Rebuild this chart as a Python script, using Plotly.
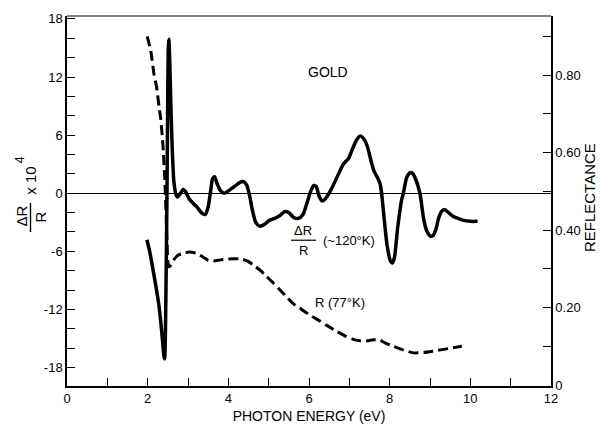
import plotly.graph_objects as go

# ---- data ----
dr_energy = [1.98, 2.05, 2.12, 2.20, 2.28, 2.33, 2.37, 2.40, 2.42, 2.44, 2.46, 2.48, 2.495, 2.51, 2.525,
             2.545, 2.575, 2.61, 2.65, 2.70, 2.74, 2.80, 2.88, 2.95, 3.03, 3.12, 3.22, 3.33, 3.43, 3.50,
             3.56, 3.61, 3.66, 3.72, 3.80, 3.90, 4.02, 4.15, 4.28, 4.38, 4.46, 4.53, 4.60, 4.68, 4.78,
             4.90, 5.02, 5.15, 5.28, 5.40, 5.50, 5.62, 5.74, 5.85, 5.95, 6.05, 6.12, 6.18, 6.25, 6.33,
             6.42, 6.55, 6.70, 6.85, 6.98, 7.08, 7.18, 7.27, 7.36, 7.45, 7.54, 7.62, 7.70, 7.76, 7.80,
             7.86, 7.94, 8.02, 8.07, 8.12, 8.20, 8.30, 8.34, 8.42, 8.50, 8.56, 8.64, 8.75, 8.84, 8.92,
             9.00, 9.07, 9.14, 9.22, 9.30, 9.37, 9.46, 9.58, 9.70, 9.83, 10.00, 10.18]
dr_value = [-4.8, -6.0, -7.6, -9.5, -11.6, -13.5, -15.3, -16.7, -17.1, -14.5, -7.5, 0.5, 8.5, 14.8, 15.9,
            14.0, 9.0, 4.5, 1.2, -0.1, -0.4, -0.1, 0.4, 0.1, -0.6, -1.0, -1.4, -2.0, -2.2, -1.4,
            0.2, 1.5, 1.7, 1.0, 0.3, 0.0, 0.3, 0.7, 1.1, 1.2, 0.8, -0.3, -1.8, -3.0, -3.4,
            -3.2, -2.8, -2.6, -2.3, -1.9, -2.0, -2.5, -2.6, -2.2, -1.0, 0.3, 0.8, 0.7, -0.3, -0.8,
            -0.5, 0.4, 1.7, 3.0, 3.6, 4.6, 5.5, 5.9, 5.6, 4.8, 3.3, 2.2, 1.6, 1.0, 0.0,
            -2.5, -5.5, -7.0, -7.2, -6.6, -3.5, -0.6, 0.0, 1.6, 2.1, 2.1, 1.5, 0.0, -2.6, -3.9,
            -4.4, -4.4, -3.8, -2.5, -1.8, -1.7, -2.0, -2.4, -2.6, -2.8, -2.9, -2.9]

r_energy = [1.99, 2.08, 2.16, 2.22, 2.28, 2.32, 2.36, 2.39, 2.42, 2.44, 2.46, 2.48, 2.50, 2.53, 2.58,
            2.66, 2.75, 2.88, 3.00, 3.09, 3.20, 3.38, 3.50, 3.63, 3.80, 3.96, 4.15, 4.33, 4.48, 4.62,
            4.80, 4.95, 5.10, 5.24, 5.42, 5.61, 5.82, 6.03, 6.24, 6.44, 6.70, 6.93, 7.10, 7.27, 7.45,
            7.60, 7.75, 7.90, 8.09, 8.35, 8.59, 8.85, 9.08, 9.45, 9.79]
r_value = [0.90, 0.86, 0.80, 0.77, 0.72, 0.69, 0.645, 0.60, 0.54, 0.49, 0.43, 0.37, 0.32, 0.305, 0.31,
           0.325, 0.335, 0.34, 0.343, 0.343, 0.34, 0.33, 0.322, 0.32, 0.323, 0.325, 0.326, 0.325, 0.32, 0.31,
           0.295, 0.28, 0.265, 0.25, 0.23, 0.21, 0.195, 0.18, 0.167, 0.154, 0.138, 0.125, 0.118, 0.114, 0.114,
           0.117, 0.116, 0.108, 0.10, 0.09, 0.083, 0.084, 0.0875, 0.094, 0.10]

x_ticks = [0, 2, 4, 6, 8, 10, 12]
y_ticks = [-18, -12, -6, 0, 6, 12, 18]
y_tick_text = ["-18", "-12", "-6", "0", "6", "12", "18"]
r_ticks = [0, 0.2, 0.4, 0.6, 0.8]
r_tick_text = ["0", "0.20", "0.40", "0.60", "0.80"]

# ---- layout geometry ----
W, H = 600, 434
L, R, T, B = 67, 49, 14, 38
PW, PH = W - L - R, H - T - B
FONT = "Liberation Sans, Arial, Helvetica, sans-serif"


def px(xp):
    return (xp - L) / PW


def py(yp):
    return (H - B - yp) / PH


fig = go.Figure()
fig.add_trace(go.Scatter(x=dr_energy, y=dr_value, mode="lines",
                         line=dict(color="black", width=3.5, shape="spline", smoothing=0.6),
                         yaxis="y", showlegend=False, hoverinfo="skip"))
fig.add_trace(go.Scatter(x=r_energy, y=r_value, mode="lines",
                         line=dict(color="black", width=3, dash="10px,5px", shape="spline", smoothing=0.6),
                         yaxis="y2", showlegend=False, hoverinfo="skip"))

tick_font = dict(family=FONT, size=13, color="black")
fig.update_layout(
    width=W, height=H,
    margin=dict(l=L, r=R, t=T, b=B, pad=0),
    paper_bgcolor="white", plot_bgcolor="white",
    font=dict(family=FONT, color="black"),
    xaxis=dict(range=[0, 12], tickvals=x_ticks, ticks="inside", ticklen=8, tickwidth=1,
               tickcolor="black", showline=True, linewidth=1.5, linecolor="black",
               showgrid=False, zeroline=False, tickfont=tick_font,
               minor=dict(dtick=1, tick0=0, ticks="inside", ticklen=8, tickwidth=1, tickcolor="black"),
               title=dict(text="PHOTON ENERGY (eV)", font=dict(family=FONT, size=14), standoff=6)),
    yaxis=dict(range=[-19.9, 18.3], tickvals=y_ticks, ticktext=y_tick_text, ticks="inside",
               ticklen=8, tickwidth=1, tickcolor="black", showline=True, linewidth=1.5,
               linecolor="black", showgrid=False, zeroline=True, zerolinecolor="black",
               zerolinewidth=1, tickfont=tick_font,
               minor=dict(dtick=2, tick0=0, ticks="inside", ticklen=8, tickwidth=1, tickcolor="black")),
    yaxis2=dict(range=[-0.0025, 0.9525], overlaying="y", side="right", tickvals=r_ticks,
                ticktext=r_tick_text, ticks="inside", ticklen=8, tickwidth=1, tickcolor="black",
                showline=True, linewidth=1.5, linecolor="black", showgrid=False, zeroline=False,
                tickfont=tick_font,
                minor=dict(dtick=0.1, tick0=0, ticks="inside", ticklen=8, tickwidth=1, tickcolor="black")),
)

ann = []


def add_text(text, xp, ypix, size=14, angle=0):
    ann.append(dict(text=text, x=px(xp), y=py(ypix), xref="paper", yref="paper",
                    showarrow=False, xanchor="center", yanchor="middle", textangle=angle,
                    font=dict(family=FONT, size=size, color="black")))


# top frame line
shapes = [dict(type="line", xref="paper", yref="paper", x0=0, x1=1, y0=1, y1=1,
               line=dict(color="black", width=1))]

# left axis title: (ΔR / R) x 10^4, rotated
add_text("ΔR", 21, 221, 15, -90)
add_text("R", 40, 222, 15, -90)
shapes.append(dict(type="line", xref="paper", yref="paper", x0=px(30.5), x1=px(30.5),
                   y0=py(207), y1=py(237), line=dict(color="black", width=1.4)))
add_text("x 10", 31, 184, 15, -90)
add_text("4", 20, 163, 12, -90)

# right axis title
add_text("REFLECTANCE", 589, 202, 15, -90)

# in-plot labels
add_text("GOLD", 328, 72, 14)
add_text("ΔR", 303, 235, 13)
add_text("R", 303, 256, 13)
shapes.append(dict(type="line", xref="paper", yref="paper", x0=px(291), x1=px(316),
                   y0=py(245.5), y1=py(245.5), line=dict(color="black", width=1.2)))
add_text("(~120°K)", 349, 246, 13)
add_text("R (77°K)", 340, 310, 13)

fig.update_layout(annotations=ann, shapes=shapes)

fig.write_html("out.html", config={"displayModeBar": False},
               post_script="document.body.style.margin='0';document.body.style.padding='0';")
